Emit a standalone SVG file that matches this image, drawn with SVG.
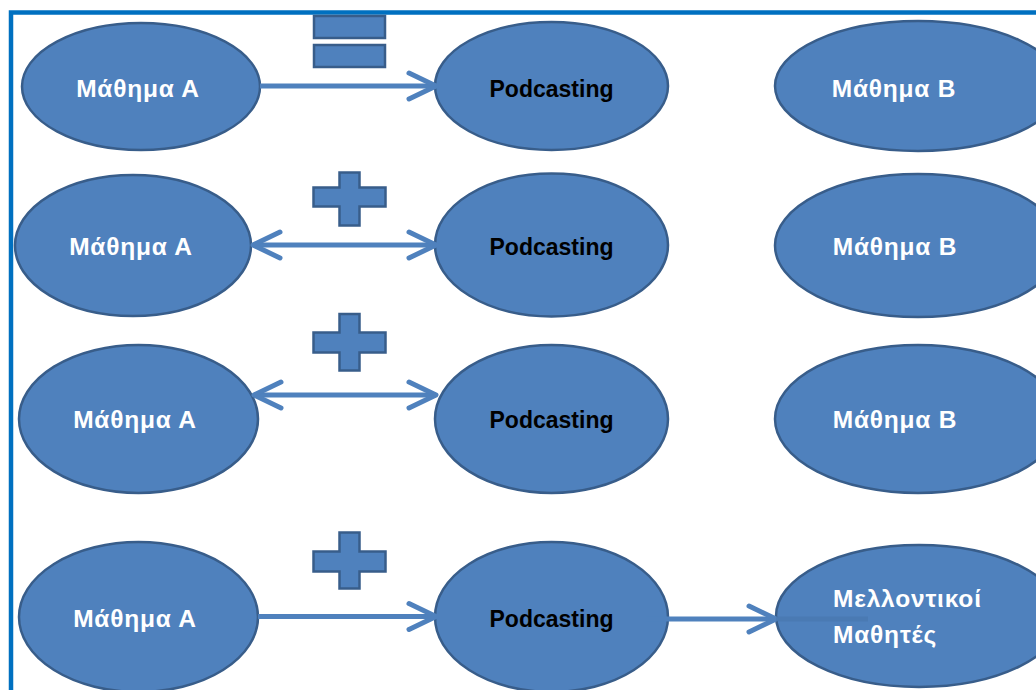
<svg xmlns="http://www.w3.org/2000/svg" width="1036" height="690" viewBox="0 0 1036 690">
<defs>
<style>
.node ellipse{fill:#4F81BD;stroke:#385D8A;stroke-width:2.5}
.sym{fill:#4F81BD;stroke:#385D8A;stroke-width:2.5}
.lbl{font-family:"Liberation Sans",Arial,sans-serif;font-weight:bold;font-size:23px;text-anchor:middle}
.gr{font-size:24.5px;letter-spacing:0.8px}
.w{fill:#FFFFFF}
.k{fill:#000000}
.conn line{stroke:#4F81BD;stroke-width:5;fill:none}
</style>
<marker id="arr" markerUnits="userSpaceOnUse" markerWidth="40" markerHeight="40" viewBox="-34 -20 40 40" refX="0" refY="0" orient="auto-start-reverse" overflow="visible">
<path d="M -27 -13 L 0 0 L -27 13" fill="none" stroke="#4F81BD" stroke-width="5" stroke-linecap="round" stroke-linejoin="round"/>
</marker>
</defs>
<rect width="1036" height="690" fill="#FFFFFF"/>
<rect x="11" y="12.5" width="1060" height="700" fill="none" stroke="#0070C0" stroke-width="4.5"/>

<!-- row 1 -->
<g id="r1-a" class="node"><ellipse cx="141" cy="86.5" rx="119" ry="63.5"/><text class="lbl gr w" x="138" y="97">Μάθημα Α</text></g>
<g id="r1-p" class="node"><ellipse cx="551.5" cy="86" rx="116.5" ry="64"/><text class="lbl k" x="551.5" y="97">Podcasting</text></g>
<g id="r1-b" class="node"><ellipse cx="918" cy="86" rx="143" ry="65"/><text class="lbl gr w" x="894" y="97">Μάθημα Β</text></g>
<g id="eq">
<rect class="sym" x="314" y="16" width="71" height="22"/>
<rect class="sym" x="314" y="45" width="71" height="22"/>
</g>

<!-- row 2 -->
<g id="r2-a" class="node"><ellipse cx="133" cy="245.5" rx="118" ry="70.5"/><text class="lbl gr w" x="131" y="255">Μάθημα Α</text></g>
<g id="r2-p" class="node"><ellipse cx="551.5" cy="245" rx="116.5" ry="71.5"/><text class="lbl k" x="551.5" y="255">Podcasting</text></g>
<g id="r2-b" class="node"><ellipse cx="918" cy="245.5" rx="143" ry="71.5"/><text class="lbl gr w" x="895" y="255">Μάθημα Β</text></g>
<g id="plus2"><path class="sym" d="M339.5 172.5 H359.5 V187.5 H385.5 V206.5 H359.5 V225.5 H339.5 V206.5 H313.5 V187.5 H339.5 Z"/></g>

<!-- row 3 -->
<g id="r3-a" class="node"><ellipse cx="138.5" cy="419" rx="119.5" ry="74"/><text class="lbl gr w" x="135" y="428">Μάθημα Α</text></g>
<g id="r3-p" class="node"><ellipse cx="551.5" cy="419" rx="116.5" ry="74"/><text class="lbl k" x="551.5" y="428">Podcasting</text></g>
<g id="r3-b" class="node"><ellipse cx="918" cy="419" rx="143" ry="74"/><text class="lbl gr w" x="895" y="428">Μάθημα Β</text></g>
<g id="plus3"><path class="sym" d="M339.5 314 H359.5 V332.5 H385.5 V352.5 H359.5 V370.5 H339.5 V352.5 H313.5 V332.5 H339.5 Z"/></g>

<!-- row 4 -->
<g id="r4-a" class="node"><ellipse cx="138.5" cy="617" rx="119.5" ry="75"/><text class="lbl gr w" x="135" y="627">Μάθημα Α</text></g>
<g id="r4-p" class="node"><ellipse cx="551.5" cy="617" rx="116.5" ry="75"/><text class="lbl k" x="551.5" y="627">Podcasting</text></g>
<g id="r4-m" class="node"><ellipse cx="919" cy="616" rx="143" ry="71"/><text class="lbl gr w" style="text-anchor:start" x="833" y="607">Μελλοντικοί</text><text class="lbl gr w" style="text-anchor:start" x="833" y="643">Μαθητές</text></g>
<g id="plus4"><path class="sym" d="M339.5 532.5 H359.5 V551.5 H385.5 V571.5 H359.5 V588.5 H339.5 V571.5 H313.5 V551.5 H339.5 Z"/></g>

<g id="connectors" class="conn">
<line x1="260" y1="86" x2="436" y2="86" marker-end="url(#arr)"/>
<line x1="253" y1="245" x2="436" y2="245" marker-start="url(#arr)" marker-end="url(#arr)"/>
<line x1="254" y1="395" x2="436" y2="395" marker-start="url(#arr)" marker-end="url(#arr)"/>
<line x1="258" y1="616.5" x2="436" y2="616.5" marker-end="url(#arr)"/>
<line x1="646" y1="619" x2="776" y2="619" marker-end="url(#arr)"/>
<line x1="776" y1="619" x2="868" y2="619" style="stroke:#385D8A;stroke-opacity:0.2"/>
</g>
</svg>
